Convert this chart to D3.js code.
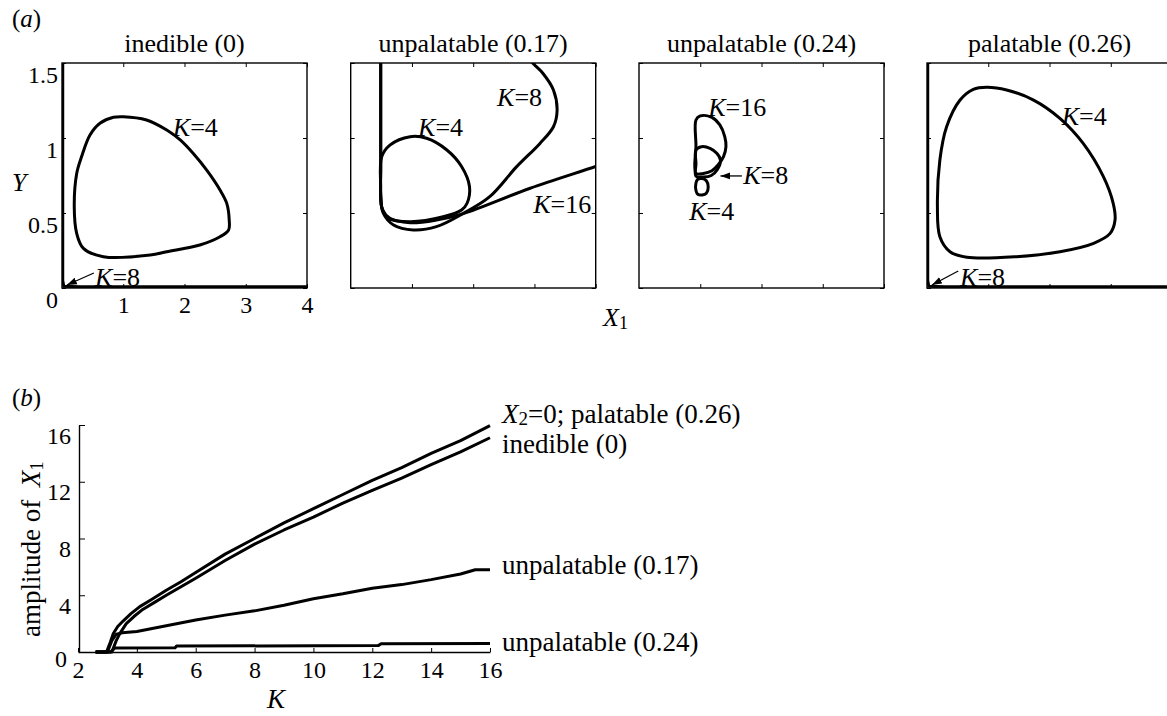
<!DOCTYPE html>
<html>
<head>
<meta charset="utf-8">
<script src="https://cdn.jsdelivr.net/npm/d3@7"></script>
<style>
body { margin: 0; background: #fff; }
</style>
</head>
<body>
<svg></svg>
<script>
const width = 1167
const height = 716
const serif = 'Liberation Serif'

// ---- panel (a): phase plane loops, X1 against Y ----
const panelTitles = ['inedible (0)', 'unpalatable (0.17)', 'unpalatable (0.24)', 'palatable (0.26)']
const xTicksA = [1, 2, 3, 4]
const yTicksA = [0, 0.5, 1, 1.5]
const yTickLabelsA = ['0', '0.5', '1', '1.5']

const inedibleK4 = [[1.0, 1.142], [1.38, 1.12], [1.71, 1.053], [1.93, 0.987], [2.14, 0.898], [2.36, 0.787], [2.58, 0.653],
	[2.69, 0.564], [2.73, 0.453], [2.72, 0.387], [2.58, 0.342], [2.25, 0.287], [1.71, 0.242], [1.44, 0.22],
	[0.675, 0.209], [0.35, 0.264], [0.24, 0.364], [0.2, 0.542], [0.24, 0.764], [0.32, 0.876], [0.457, 1.02],
	[0.62, 1.098], [0.84, 1.138]]
const inedibleK8 = [[4.3, 0.008], [0.3, 0.008], [0.03, 0.012], [0.012, 0.05], [0.012, 1.6]]

const unpal17K4 = [[0.506, 0.875], [0.64, 0.953], [0.97, 1.009], [1.24, 0.998], [1.57, 0.92], [1.81, 0.81], [1.94, 0.675],
	[1.9, 0.565], [1.81, 0.52], [1.51, 0.475], [0.97, 0.442], [0.61, 0.465], [0.506, 0.54], [0.49, 0.675]]
const unpal17K8 = [[0.49, 1.6], [0.49, 1.2], [0.49, 0.8], [0.49, 0.62], [0.53, 0.5], [0.7, 0.42], [1.02, 0.387],
	[1.4, 0.409], [1.84, 0.498], [2.27, 0.609], [2.71, 0.809], [3.09, 0.964], [3.31, 1.075], [3.37, 1.187],
	[3.31, 1.32], [3.14, 1.43], [2.97, 1.5], [2.85, 1.56]]
const unpal17K16 = [[0.49, 1.6], [0.49, 1.2], [0.49, 0.8], [0.49, 0.61], [0.52, 0.52], [0.64, 0.465], [0.97, 0.435],
	[1.4, 0.453], [1.84, 0.496], [2.93, 0.665], [4.0, 0.81], [4.2, 0.84]]

const unpal24K4 = [[0.93, 0.7], [0.96, 0.725], [1.03, 0.73], [1.1, 0.715], [1.13, 0.673], [1.1, 0.631], [1.03, 0.62],
	[0.96, 0.625], [0.93, 0.65]]
const unpal24K8 = [[0.93, 0.92], [1.02, 0.942], [1.16, 0.931], [1.27, 0.898], [1.33, 0.853], [1.28, 0.79], [1.18, 0.75],
	[1.05, 0.74], [0.93, 0.745], [0.93, 0.83]]
const unpal24K16 = [[0.93, 1.12], [1.0, 1.147], [1.19, 1.138], [1.32, 1.087], [1.4, 1.009], [1.42, 0.942], [1.38, 0.876],
	[1.29, 0.82], [1.19, 0.782], [1.05, 0.764], [0.93, 0.764], [0.93, 0.95]]

const palatableK4 = [[0.975, 1.338], [1.3, 1.32], [1.74, 1.253], [2.17, 1.131], [2.55, 0.964], [2.88, 0.742], [3.04, 0.564],
	[3.07, 0.453], [2.99, 0.364], [2.72, 0.298], [2.17, 0.242], [1.46, 0.209], [0.65, 0.205], [0.376, 0.242],
	[0.21, 0.342], [0.17, 0.542], [0.21, 0.853], [0.32, 1.075], [0.54, 1.253], [0.756, 1.324]]
const palatableK8 = [[4.3, 0.008], [0.3, 0.008], [0.03, 0.012], [0.012, 0.05], [0.012, 1.6]]

// ---- panel (b): amplitude of X1 against K ----
const xTicksB = [2, 4, 6, 8, 10, 12, 14, 16]
const yTicksB = [0, 4, 8, 12, 16]
const seriesNamesB = ['X2=0; palatable (0.26)', 'inedible (0)', 'unpalatable (0.17)', 'unpalatable (0.24)']
const ampPalatable = [[2.6, 0], [2.97, 0], [3.1, 0.7], [3.2, 1.3], [3.35, 1.8], [3.54, 2.2], [3.8, 2.7], [4.1, 3.2],
	[4.5, 3.7], [5, 4.35], [5.5, 4.95], [6, 5.6], [7, 6.9], [8, 8.0], [9, 9.1], [10, 10.1], [11, 11.1], [12, 12.1],
	[13, 13.0], [14, 14.0], [15, 14.9], [16, 15.95]]
const ampInedible = [[2.6, 0], [3.15, 0], [3.3, 0.8], [3.42, 1.3], [3.64, 2.0], [3.9, 2.5], [4.2, 3.0], [4.6, 3.5],
	[5, 4.0], [5.5, 4.6], [6, 5.2], [7, 6.45], [8, 7.6], [9, 8.6], [10, 9.5], [11, 10.5], [12, 11.4], [13, 12.25],
	[14, 13.2], [15, 14.1], [16, 15.1]]
const ampUnpal17 = [[2.6, 0], [3.0, 0], [3.15, 0.8], [3.3, 1.25], [3.5, 1.35], [4, 1.45], [5, 1.85], [6, 2.25],
	[7, 2.6], [8, 2.9], [9, 3.3], [10, 3.75], [11, 4.1], [12, 4.5], [13, 4.75], [14, 5.1], [15, 5.5], [15.5, 5.8], [16, 5.8]]
const ampUnpal24 = [[2.6, 0], [3.1, 0], [3.25, 0.28], [5.3, 0.3], [5.35, 0.42], [12.2, 0.45], [12.3, 0.58], [16, 0.6]]

const svg = d3.select('svg')
	.attr('width', width)
	.attr('height', height)

const defs = svg.append('defs')
defs.append('marker')
	.attr('id', 'arrow')
	.attr('viewBox', '0 -4 10 8')
	.attr('refX', 10)
	.attr('refY', 0)
	.attr('markerWidth', 10)
	.attr('markerHeight', 8)
	.attr('markerUnits', 'userSpaceOnUse')
	.attr('orient', 'auto')
	.append('path')
	.attr('d', 'M0,-3.5L10,0L0,3.5Z')
	.attr('fill', '#000')

function kLabel(g, px, py, num) {
	const t = g.append('text').attr('x', px).attr('y', py).attr('font-size', 26)
	t.append('tspan').attr('font-style', 'italic').text('K')
	t.append('tspan').text('=' + num)
	return t
}

// ---------- panel (a) ----------
const panelLeft = [62, 350.7, 639, 927]
const pw = 245
const pTop = 63
const pBottom = 288

const loops = [
	[{ d: inedibleK4, closed: true }, { d: inedibleK8, closed: false, straight: true }],
	[{ d: unpal17K4, closed: true }, { d: unpal17K8, closed: false }, { d: unpal17K16, closed: false }],
	[{ d: unpal24K16, closed: true }, { d: unpal24K8, closed: true }, { d: unpal24K4, closed: true }],
	[{ d: palatableK4, closed: true }, { d: palatableK8, closed: false, straight: true }]
]

const notes = [
	[{ k: 4, at: [1.81, 1.013] }, { k: 8, at: [0.54, 0.013], arrow: [[0.52, 0.1], [0.08, 0.02]] }],
	[{ k: 4, at: [1.1, 1.013] }, { k: 8, at: [2.39, 1.213] }, { k: 16, at: [2.98, 0.5] }],
	[{ k: 16, at: [1.13, 1.147] }, { k: 8, at: [1.7, 0.693], arrow: [[1.68, 0.747], [1.33, 0.747]] }, { k: 4, at: [0.82, 0.453] }],
	[{ k: 4, at: [2.2, 1.087] }, { k: 8, at: [0.54, 0.013], arrow: [[0.51, 0.113], [0.08, 0.02]] }]
]

panelTitles.forEach(function (title, i) {
	const x = d3.scaleLinear().domain([0, 4]).range([panelLeft[i], panelLeft[i] + pw])
	const y = d3.scaleLinear().domain([0, 1.5]).range([pBottom, pTop])
	const g = svg.append('g')

	defs.append('clipPath').attr('id', 'clip' + i)
		.append('rect')
		.attr('x', panelLeft[i]).attr('y', pTop)
		.attr('width', pw).attr('height', pBottom - pTop)

	// inward ticks on all four sides
	const axes = [
		[d3.axisBottom(x).tickValues(xTicksA), 'translate(0,' + pBottom + ')'],
		[d3.axisTop(x).tickValues(xTicksA).tickFormat(''), 'translate(0,' + pTop + ')'],
		[d3.axisLeft(y).tickValues(yTicksA), 'translate(' + panelLeft[i] + ',0)'],
		[d3.axisRight(y).tickValues(yTicksA).tickFormat(''), 'translate(' + (panelLeft[i] + pw) + ',0)']
	]
	axes.forEach(function (a, j) {
		const ax = a[0].tickSize(-4).tickSizeOuter(0)
		if (j === 0) ax.tickFormat(i === 0 ? d3.format('d') : '').tickPadding(8)
		if (j === 2) ax.tickFormat(i === 0 ? function (d, n) { return yTickLabelsA[n] } : '').tickPadding(4)
		const ag = g.append('g').attr('transform', a[1]).call(ax)
		ag.select('.domain').remove()
		ag.attr('font-size', 24).attr('font-family', serif)
		ag.selectAll('line').attr('stroke-width', 1)
		if (j === 0) ag.selectAll('.tick').filter(function (d) { return d === 0 }).remove()
		if (j === 2) ag.selectAll('text').attr('dy', '0.83em')
	})

	g.append('rect')
		.attr('x', panelLeft[i]).attr('y', pTop)
		.attr('width', pw).attr('height', pBottom - pTop)
		.attr('fill', 'none')
		.attr('stroke', '#000')
		.attr('stroke-width', 1.4)

	g.append('text')
		.attr('x', panelLeft[i] + pw / 2)
		.attr('y', 52)
		.attr('text-anchor', 'middle')
		.attr('font-size', 26)
		.text(title)

	const cg = g.append('g').attr('clip-path', 'url(#clip' + i + ')')
	loops[i].forEach(function (c) {
		const line = d3.line()
			.x(function (d) { return x(d[0]) })
			.y(function (d) { return y(d[1]) })
			.curve(c.straight ? d3.curveLinear : (c.closed ? d3.curveCatmullRomClosed : d3.curveCatmullRom))
		cg.append('path')
			.attr('d', line(c.d))
			.attr('fill', 'none')
			.attr('stroke', '#000')
			.attr('stroke-width', 3)
			.attr('stroke-linejoin', 'round')
	})

	notes[i].forEach(function (n) {
		kLabel(g, x(n.at[0]), y(n.at[1]), n.k)
		if (n.arrow) {
			g.append('line')
				.attr('x1', x(n.arrow[0][0])).attr('y1', y(n.arrow[0][1]))
				.attr('x2', x(n.arrow[1][0])).attr('y2', y(n.arrow[1][1]))
				.attr('stroke', '#000')
				.attr('stroke-width', 1.3)
				.attr('marker-end', 'url(#arrow)')
		}
	})
})

// panel (a) labels
const labA = svg.append('text').attr('x', 12).attr('y', 27).attr('font-size', 25)
labA.append('tspan').text('(')
labA.append('tspan').attr('font-style', 'italic').text('a')
labA.append('tspan').text(')')

svg.append('text').attr('x', 12).attr('y', 191).attr('font-size', 26)
	.attr('font-style', 'italic').text('Y')

const xLabA = svg.append('text').attr('x', 603).attr('y', 326).attr('font-size', 26)
xLabA.append('tspan').attr('font-style', 'italic').text('X')
xLabA.append('tspan').attr('font-size', 18).attr('dy', 3).text('1')

// ---------- panel (b) ----------
const xB = d3.scaleLinear().domain([2, 16]).range([78, 490])
const yB = d3.scaleLinear().domain([0, 16]).range([652, 425])

const gb = svg.append('g')
const axB = gb.append('g').attr('transform', 'translate(0,652)')
	.call(d3.axisBottom(xB).tickValues(xTicksB).tickSize(-4).tickSizeOuter(0).tickPadding(9))
axB.attr('font-size', 24).attr('font-family', serif)
axB.select('.domain').attr('stroke-width', 1.4)
const ayB = gb.append('g').attr('transform', 'translate(79,0)')
	.call(d3.axisLeft(yB).tickValues(yTicksB).tickSize(-6).tickSizeOuter(0).tickPadding(8))
ayB.attr('font-size', 24).attr('font-family', serif)
ayB.select('.domain').attr('stroke-width', 1.4)
ayB.selectAll('text').attr('dy', '0.75em')
ayB.selectAll('.tick').filter(function (d) { return d === 0 }).select('text')
	.attr('dx', -4).attr('dy', '0.6em')

const ampSeries = [ampPalatable, ampInedible, ampUnpal17, ampUnpal24]
const lineB = d3.line()
	.x(function (d) { return xB(d[0]) })
	.y(function (d) { return yB(d[1]) })

gb.selectAll('path.amp')
	.data(ampSeries)
	.enter()
	.append('path')
	.attr('class', 'amp')
	.attr('d', lineB)
	.attr('fill', 'none')
	.attr('stroke', '#000')
	.attr('stroke-width', 3)
	.attr('stroke-linejoin', 'round')

// series labels at the right end of each line
const labelBaseline = [423, 453, 574, 651]
seriesNamesB.forEach(function (name, i) {
	const t = gb.append('text').attr('x', 502).attr('y', labelBaseline[i]).attr('font-size', 27)
	if (i === 0) {
		t.append('tspan').attr('font-style', 'italic').text('X')
		t.append('tspan').attr('font-size', 19).attr('dy', 2).text('2')
		t.append('tspan').attr('dy', -2).text(name.slice(2))
	} else {
		t.text(name)
	}
})

const labB = svg.append('text').attr('x', 12).attr('y', 406).attr('font-size', 25)
labB.append('tspan').text('(')
labB.append('tspan').attr('font-style', 'italic').text('b')
labB.append('tspan').text(')')

svg.append('text').attr('x', 276).attr('y', 708).attr('font-size', 27)
	.attr('text-anchor', 'middle').attr('font-style', 'italic').text('K')

const yLabB = svg.append('text')
	.attr('transform', 'translate(40,637) rotate(-90)')
	.attr('font-size', 27)
yLabB.append('tspan').text('amplitude of ')
yLabB.append('tspan').attr('dx', 6).attr('font-style', 'italic').text('X')
yLabB.append('tspan').attr('font-size', 18).attr('dy', 3).text('1')

// serif face on every text and tspan
svg.selectAll('text, tspan').style('font-family', serif)
</script>
</body>
</html>
